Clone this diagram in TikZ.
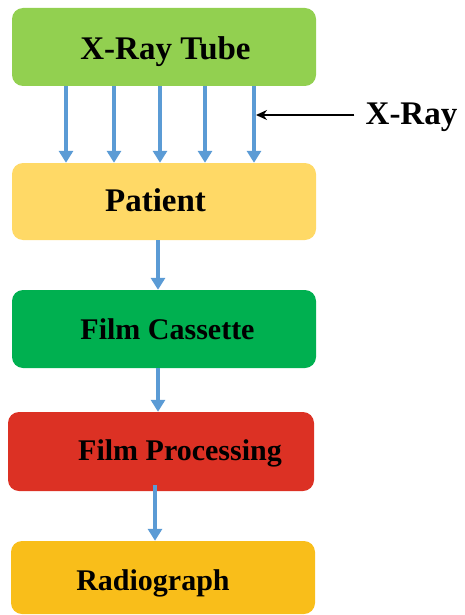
\documentclass[tikz,border=0pt]{standalone}
\usepackage{fontspec}
\setmainfont{Liberation Serif}
\usetikzlibrary{arrows.meta,shapes}
\definecolor{tubegreen}{RGB}{146,208,80}
\definecolor{patientyellow}{RGB}{255,217,102}
\definecolor{cassettegreen}{RGB}{0,176,80}
\definecolor{processred}{RGB}{220,49,36}
\definecolor{radioyellow}{RGB}{249,190,26}
\definecolor{rayblue}{RGB}{91,155,213}
\tikzset{box/.style={rounded corners=11pt, minimum width=304pt, minimum height=78pt, inner sep=0pt},
    lbl/.style={anchor=base, inner sep=0pt, font=\bfseries\fontsize{33}{36}\selectfont},
    smalllbl/.style={lbl, font=\bfseries\fontsize{30}{33}\selectfont},
    ray/.style={rayblue, line width=3.4pt, -{Triangle[width=14pt,length=12pt]}},
    pointer/.style={black, line width=1.8pt, -{Stealth[width=10pt,length=11pt]}},}
\begin{document}
\begin{tikzpicture}[x=1pt, y=-1pt]
  \useasboundingbox (0,0) rectangle (464,615);
  \node[box, fill=tubegreen] (tube) at (164,47) {};
  \node[box, fill=patientyellow, minimum height=77pt] (patient) at (164,201.5) {};
  \node[box, fill=cassettegreen] (cassette) at (164,329) {};
  \node[box, fill=processred, minimum width=306pt, minimum height=79pt] (processing) at (161,451.5) {};
  \node[box, fill=radioyellow, minimum height=73pt] (radiograph) at (163,577.5) {};
  \node[lbl] (tubetext) at (165.5,60) {X-Ray Tube};
  \node[lbl] (patienttext) at (155.5,211.7) {Patient};
  \node[smalllbl] (cassettetext) at (167.5,339) {Film Cassette};
  \node[smalllbl] (processingtext) at (180,460.7) {Film Processing};
  \node[smalllbl] (radiographtext) at (153,590) {Radiograph};
  \node[lbl] (xray) at (411.5,124.3) {X-Ray};
  \foreach \dx in {-98,-50,-4,41,90}
    \draw[ray] ([xshift=\dx pt]tube.south) -- ([xshift=\dx pt]patient.north);
  \draw[ray] ([xshift=-6pt]patient.south) -- ([xshift=-6pt]cassette.north);
  \draw[ray] ([xshift=-6pt]cassette.south) -- ([xshift=-3pt]processing.north);
  \draw[ray] ([shift={(-6pt,6pt)}]processing.south) -- ([xshift=-8pt]radiograph.north);
  \coordinate (hit) at (256,115);
  \draw[pointer] ([xshift=-11pt]xray.west |- hit) -- (hit);
\end{tikzpicture}
\end{document}
